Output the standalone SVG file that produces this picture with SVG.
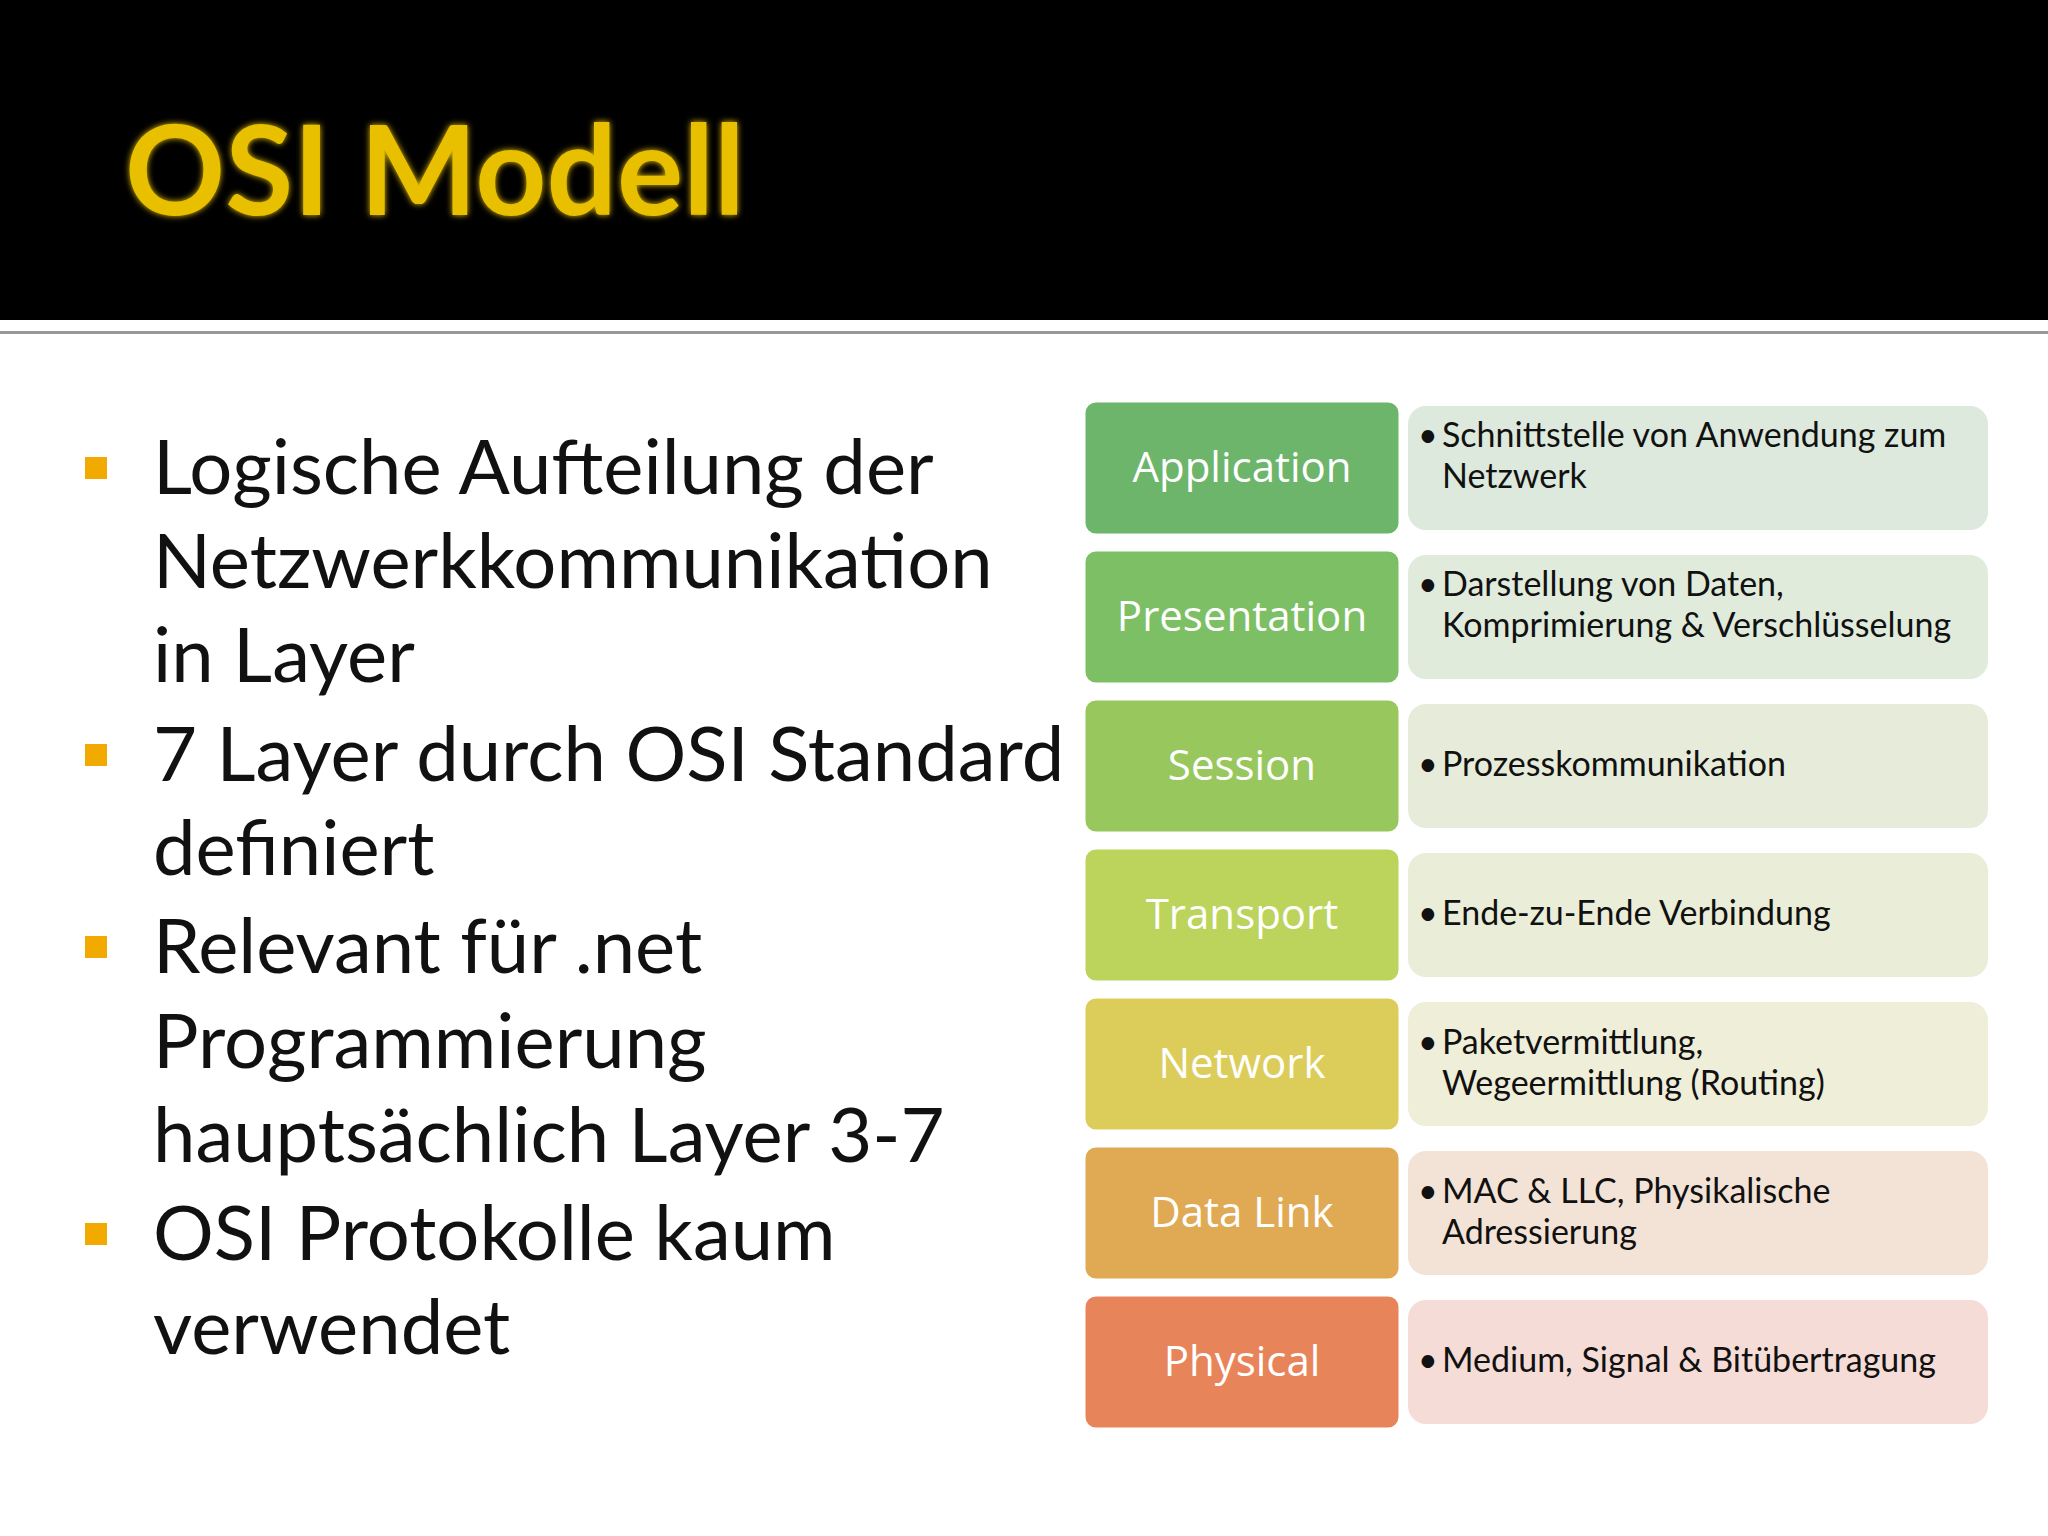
<svg xmlns="http://www.w3.org/2000/svg" width="2048" height="1536" viewBox="0 0 2048 1536">
<defs>
<style>
.b{font-family:"Lato","Noto Sans",sans-serif;font-size:76px;fill:#111}
.sq{fill:#f2a900}
.lab{font-family:"Open Sans","Noto Sans",sans-serif;font-size:42px;fill:#fff;text-anchor:middle}
.d{font-family:"Lato","Noto Sans",sans-serif;font-size:34px;fill:#111}
.lb{stroke:#fff;stroke-width:3}
</style>
<filter id="g" x="-10%" y="-20%" width="120%" height="140%"><feGaussianBlur stdDeviation="3" result="b"/><feMerge><feMergeNode in="b"/><feMergeNode in="SourceGraphic"/></feMerge></filter>
</defs>
<rect width="2048" height="1536" fill="#fff"/>
<rect width="2048" height="320" fill="#000"/>
<rect y="331" width="2048" height="3" fill="#999"/>
<text x="125" y="215" font-family="Lato,'Open Sans',sans-serif" font-weight="bold" font-size="124" fill="#e8c000" filter="url(#g)">OSI Modell</text>
<g id="bullets">
<rect class="sq" x="85" y="457" width="22" height="22"/>
<rect class="sq" x="85" y="744" width="22" height="22"/>
<rect class="sq" x="85" y="936" width="22" height="22"/>
<rect class="sq" x="85" y="1223" width="22" height="22"/>
<text class="b" x="153" y="494">Logische Aufteilung der</text>
<text class="b" x="153" y="588">Netzwerkkommunikation</text>
<text class="b" x="153" y="682">in Layer</text>
<text class="b" x="153" y="781">7 Layer durch OSI Standard</text>
<text class="b" x="153" y="875">definiert</text>
<text class="b" x="153" y="973">Relevant für .net</text>
<text class="b" x="153" y="1068">Programmierung</text>
<text class="b" x="153" y="1162">hauptsächlich Layer 3-7</text>
<text class="b" x="153" y="1260">OSI Protokolle kaum</text>
<text class="b" x="153" y="1354">verwendet</text>
</g>
<g id="application">
<rect x="1408" y="406" width="580" height="124" rx="18" fill="#dde9dc"/>
<rect class="lb" x="1084" y="401" width="316" height="134" rx="12" fill="#6db56b"/>
<text class="lab" x="1242" y="482">Application</text>
<text class="d" x="1418" y="447">•</text><text class="d" x="1442" y="447">Schnittstelle von Anwendung zum</text><text class="d" x="1442" y="488">Netzwerk</text>
</g>
<g id="presentation">
<rect x="1408" y="555" width="580" height="124" rx="18" fill="#e0ebdb"/>
<rect class="lb" x="1084" y="550" width="316" height="134" rx="12" fill="#7dbf64"/>
<text class="lab" x="1242" y="631">Presentation</text>
<text class="d" x="1418" y="596">•</text><text class="d" x="1442" y="596">Darstellung von Daten,</text><text class="d" x="1442" y="637">Komprimierung &amp; Verschlüsselung</text>
</g>
<g id="session">
<rect x="1408" y="704" width="580" height="124" rx="18" fill="#e6ecd9"/>
<rect class="lb" x="1084" y="699" width="316" height="134" rx="12" fill="#98c75e"/>
<text class="lab" x="1242" y="780">Session</text>
<text class="d" x="1418" y="776">•</text><text class="d" x="1442" y="776">Prozesskommunikation</text>
</g>
<g id="transport">
<rect x="1408" y="853" width="580" height="124" rx="18" fill="#eaeed8"/>
<rect class="lb" x="1084" y="848" width="316" height="134" rx="12" fill="#bcd35c"/>
<text class="lab" x="1242" y="929">Transport</text>
<text class="d" x="1418" y="925">•</text><text class="d" x="1442" y="925">Ende-zu-Ende Verbindung</text>
</g>
<g id="network">
<rect x="1408" y="1002" width="580" height="124" rx="18" fill="#efeed8"/>
<rect class="lb" x="1084" y="997" width="316" height="134" rx="12" fill="#dccd5a"/>
<text class="lab" x="1242" y="1078">Network</text>
<text class="d" x="1418" y="1054">•</text><text class="d" x="1442" y="1054">Paketvermittlung,</text><text class="d" x="1442" y="1095">Wegeermittlung (Routing)</text>
</g>
<g id="datalink">
<rect x="1408" y="1151" width="580" height="124" rx="18" fill="#f3e3d6"/>
<rect class="lb" x="1084" y="1146" width="316" height="134" rx="12" fill="#e0aa55"/>
<text class="lab" x="1242" y="1227">Data Link</text>
<text class="d" x="1418" y="1203">•</text><text class="d" x="1442" y="1203">MAC &amp; LLC, Physikalische</text><text class="d" x="1442" y="1244">Adressierung</text>
</g>
<g id="physical">
<rect x="1408" y="1300" width="580" height="124" rx="18" fill="#f5dcd6"/>
<rect class="lb" x="1084" y="1295" width="316" height="134" rx="12" fill="#e8845a"/>
<text class="lab" x="1242" y="1376">Physical</text>
<text class="d" x="1418" y="1372">•</text><text class="d" x="1442" y="1372">Medium, Signal &amp; Bitübertragung</text>
</g>
<g id="connectors"/>
</svg>
